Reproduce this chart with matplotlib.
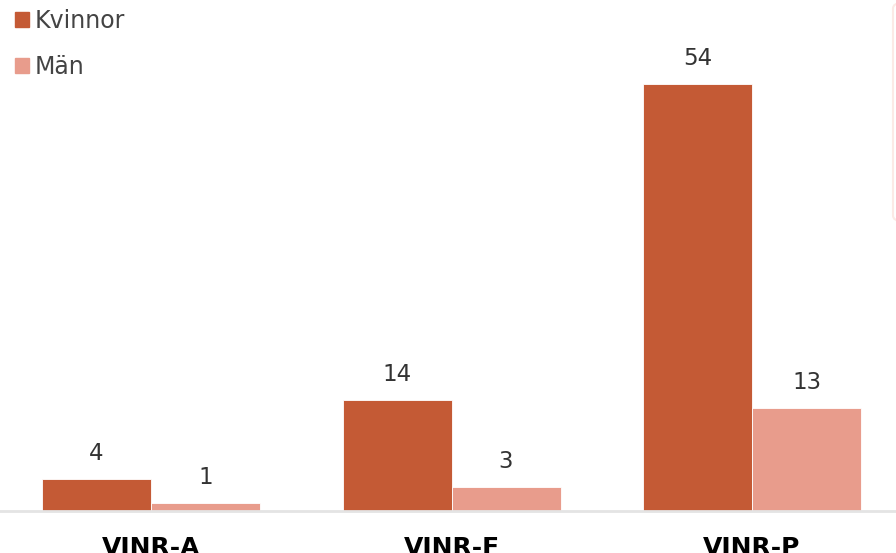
import matplotlib.pyplot as plt
from matplotlib.patches import FancyBboxPatch
import numpy as np

plt.rcParams["font.family"] = ["DejaVu Sans"]

categories = ["VINR-A", "VINR-F", "VINR-P"]
kvinnor = [4, 14, 54]
man = [1, 3, 13]
series_names = ["Kvinnor", "Män"]

col_k = "#c45a35"
col_m = "#e89c8c"

fig = plt.figure(figsize=(8.96, 5.53), dpi=100)
ax = fig.add_axes([0, 0.076, 1, 0.924])

x = np.arange(len(categories))
w = 0.3627
b1 = ax.bar(x - w / 2, kvinnor, w, color=col_k, edgecolor="white", linewidth=0.6, label=series_names[0])
b2 = ax.bar(x + w / 2, man, w, color=col_m, edgecolor="white", linewidth=0.6, label=series_names[1])

for bars in (b1, b2):
    for r in bars:
        ax.annotate(f"{int(r.get_height())}", (r.get_x() + r.get_width() / 2, r.get_height()),
                    xytext=(0, 10), textcoords="offset points", ha="center", va="bottom",
                    fontsize=16.5, color="#333333")

ax.set_xlim(-0.5025, 2.479)
ax.set_ylim(0, 64.6)
ax.set_yticks([])
ax.set_xticks(x)
ax.set_xticklabels(categories, fontsize=18, fontweight="bold", color="black")
ax.tick_params(axis="x", length=0, pad=18)
for s in ["top", "right", "left"]:
    ax.spines[s].set_visible(False)
ax.spines["bottom"].set_color("#e4e4e4")
ax.spines["bottom"].set_linewidth(2)

# legend drawn as figure-level entries
for i, (name, c) in enumerate(zip(series_names, [col_k, col_m])):
    y0 = 1 - (27 + 46 * i) / 553
    fig.patches.append(plt.Rectangle((15 / 896, y0), 14 / 896, 15 / 553, color=c,
                                     transform=fig.transFigure, figure=fig))
    fig.text(35 / 896, y0 + 6 / 553, name, fontsize=17, color="#444444", va="center", ha="left")

# faint edge of a box at the right border
fig.patches.append(FancyBboxPatch((893 / 896, 1 - 221 / 553), 0.05, 218 / 553,
                                  boxstyle="round,pad=0,rounding_size=0.01",
                                  transform=fig.transFigure, figure=fig,
                                  facecolor="white", edgecolor="#fbeae6", linewidth=1.5))

fig.savefig("out.png", dpi=100)
